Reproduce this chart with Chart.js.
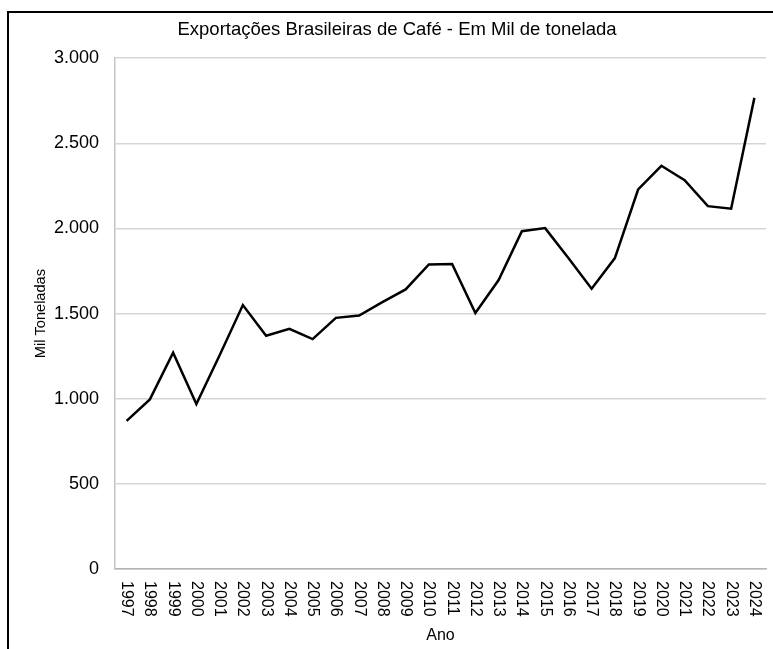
<!DOCTYPE html>
<html lang="pt-BR">
<head>
<meta charset="utf-8">
<title>Exportações Brasileiras de Café</title>
<script src="https://cdn.jsdelivr.net/npm/chart.js@4.4.1/dist/chart.umd.min.js"></script>
<style>
    html, body { margin: 0; padding: 0; background: #fff; }
    canvas { display: block; }
</style>
</head>
<body>
<canvas id="cafeChart" width="773" height="649"></canvas>
<script>
// --- DADOS ---
const anos = ['1997', '1998', '1999', '2000', '2001', '2002', '2003', '2004', '2005', '2006',
    '2007', '2008', '2009', '2010', '2011', '2012', '2013', '2014', '2015', '2016',
    '2017', '2018', '2019', '2020', '2021', '2022', '2023', '2024'];
const milToneladas = [870, 996, 1270, 969, 1255, 1550, 1370, 1411, 1350, 1475,
    1489, 1567, 1642, 1789, 1791, 1503, 1697, 1984, 2002, 1826,
    1646, 1826, 2229, 2368, 2284, 2131, 2116, 2767];
const yMin = 0;
const yMax = 3000;
const yStep = 500;

const FONT = "'Liberation Sans', Arial, sans-serif";

// 3000 -> "3.000"
function formatMilhar(v) {
    return String(v).replace(/\B(?=(\d{3})+(?!\d))/g, '.');
}

// moldura preta (topo e esquerda) + fundo branco
const molduraPlugin = {
    id: 'moldura',
    beforeDraw(chart) {
        const ctx = chart.ctx;
        ctx.save();
        ctx.fillStyle = '#fff';
        ctx.fillRect(0, 0, chart.width, chart.height);
        ctx.strokeStyle = '#000';
        ctx.lineWidth = 2;
        ctx.beginPath();
        ctx.moveTo(8, chart.height);
        ctx.lineTo(8, 12);
        ctx.lineTo(chart.width, 12);
        ctx.stroke();
        ctx.restore();
    }
};

// rótulos dos anos girados 90° no sentido horário
const rotulosAnos = {
    id: 'rotulosAnos',
    afterDraw(chart) {
        const ctx = chart.ctx;
        const xScale = chart.scales.x;
        const top = chart.chartArea.bottom + 12;
        ctx.save();
        ctx.fillStyle = '#000';
        ctx.font = `16px ${FONT}`;
        ctx.textAlign = 'left';
        ctx.textBaseline = 'middle';
        anos.forEach((ano, i) => {
            const x = xScale.getPixelForTick(i);
            ctx.save();
            ctx.translate(x, top);
            ctx.rotate(Math.PI / 2);
            ctx.fillText(ano, 0, 0);
            ctx.restore();
        });
        ctx.restore();
    }
};

new Chart(document.getElementById('cafeChart'), {
    type: 'line',
    data: {
        labels: anos,
        datasets: [{
            label: 'Mil Toneladas',
            data: milToneladas,
            borderColor: '#000',
            borderWidth: 2.5,
            pointRadius: 0,
            tension: 0,
            fill: false
        }]
    },
    options: {
        responsive: false,
        animation: false,
        layout: { padding: { top: 14, left: 28, right: 7, bottom: 0 } },
        plugins: {
            legend: { display: false },
            tooltip: { enabled: false },
            title: {
                display: true,
                text: 'Exportações Brasileiras de Café - Em Mil de tonelada',
                color: '#000',
                font: { family: FONT, size: 18.5, weight: 'normal' },
                padding: { top: 5, bottom: 17 }
            }
        },
        scales: {
            x: {
                offset: true,
                grid: { display: false, drawTicks: false },
                border: { display: true, color: '#b4b4b4', width: 1.5 },
                ticks: { display: false },
                title: {
                    display: true,
                    text: 'Ano',
                    color: '#000',
                    font: { family: FONT, size: 16 },
                    padding: { top: 4, bottom: 4 }
                },
                afterFit(scale) { scale.height = 80; }
            },
            y: {
                min: yMin,
                max: yMax,
                grid: { color: '#d6d6d6', lineWidth: 1.5, drawTicks: false },
                border: { display: true, color: '#c4c4c4', width: 1.5 },
                ticks: {
                    stepSize: yStep,
                    padding: 16,
                    color: '#000',
                    font: { family: FONT, size: 18 },
                    callback: v => formatMilhar(v)
                },
                title: {
                    display: true,
                    text: 'Mil Toneladas',
                    color: '#000',
                    font: { family: FONT, size: 14.6 },
                    padding: { top: 4, bottom: 4 }
                },
                afterFit(scale) { scale.width = 87; }
            }
        }
    },
    plugins: [molduraPlugin, rotulosAnos]
});
</script>
</body>
</html>
